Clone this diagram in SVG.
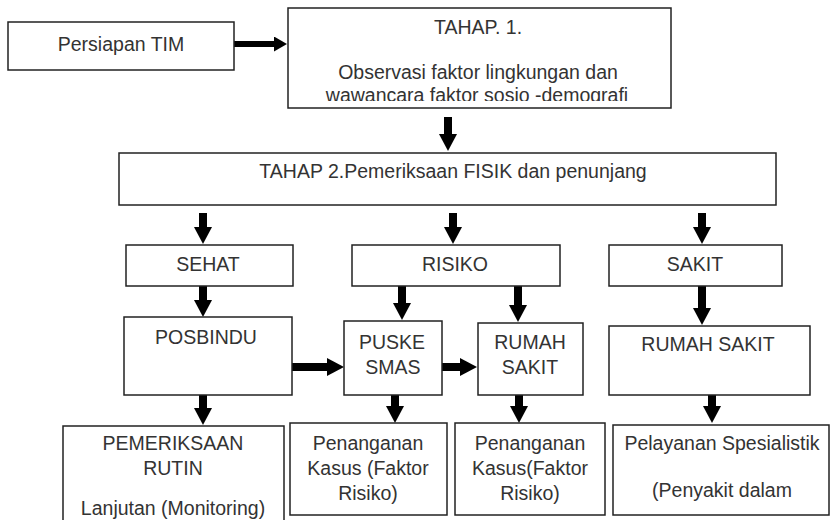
<svg xmlns="http://www.w3.org/2000/svg" width="831" height="526" viewBox="0 0 831 526">
<style>
.box{fill:#fff;stroke:#222;stroke-width:1.5}
.t{font-family:"Liberation Sans",Arial,sans-serif;font-size:19.5px;fill:#333;text-anchor:middle}
.ar{stroke:#000;stroke-width:8;fill:none}
.ars{stroke:#000;stroke-width:6;fill:none}
</style>
<defs>
<marker id="ah" markerUnits="userSpaceOnUse" markerWidth="17" markerHeight="18" refX="3" refY="9" orient="auto"><path d="M0,0 L17,9 L0,18 Z" fill="#000"/></marker>
<marker id="ahs" markerUnits="userSpaceOnUse" markerWidth="13" markerHeight="15" refX="3" refY="7.5" orient="auto"><path d="M0,0 L13,7.5 L0,15 Z" fill="#000"/></marker>
<clipPath id="c1"><rect x="288" y="8" width="384" height="93"/></clipPath>
<clipPath id="c2"><rect x="0" y="0" width="831" height="520"/></clipPath>
</defs>
<rect width="831" height="526" fill="#fff"/>
<g id="connectors">
<line class="ars" x1="234" y1="44" x2="277" y2="44" marker-end="url(#ahs)"/>
<line class="ar" x1="448" y1="117" x2="448" y2="137" marker-end="url(#ah)"/>
<line class="ar" x1="203" y1="213" x2="203" y2="230" marker-end="url(#ah)"/>
<line class="ar" x1="453" y1="213" x2="453" y2="230" marker-end="url(#ah)"/>
<line class="ar" x1="702" y1="213" x2="702" y2="230" marker-end="url(#ah)"/>
<line class="ar" x1="203" y1="286" x2="203" y2="303" marker-end="url(#ah)"/>
<line class="ar" x1="402" y1="286" x2="402" y2="306" marker-end="url(#ah)"/>
<line class="ar" x1="518" y1="286" x2="518" y2="308" marker-end="url(#ah)"/>
<line class="ar" x1="702" y1="286" x2="702" y2="311" marker-end="url(#ah)"/>
<line class="ar" x1="292" y1="367" x2="330" y2="367" marker-end="url(#ah)"/>
<line class="ar" x1="442" y1="367" x2="463" y2="367" marker-end="url(#ah)"/>
<line class="ar" x1="203" y1="395" x2="203" y2="411" marker-end="url(#ah)"/>
<line class="ar" x1="395" y1="395" x2="395" y2="409" marker-end="url(#ah)"/>
<line class="ar" x1="519" y1="395" x2="519" y2="409" marker-end="url(#ah)"/>
<line class="ar" x1="712" y1="395" x2="712" y2="409" marker-end="url(#ah)"/>
</g>
<g id="persiapan">
<rect class="box" x="8" y="22" width="226" height="48"/>
<text class="t" x="121" y="51">Persiapan TIM</text>
</g>
<g id="tahap1">
<rect class="box" x="288" y="8" width="383" height="100"/>
<text class="t" x="478" y="34">TAHAP. 1.</text>
<g clip-path="url(#c1)">
<text class="t" x="478" y="79">Observasi faktor lingkungan dan</text>
<text class="t" x="477" y="102">wawancara faktor sosio -demografi</text>
</g>
</g>
<g id="tahap2">
<rect class="box" x="119" y="153" width="657" height="52"/>
<text class="t" x="453" y="178">TAHAP 2.Pemeriksaan FISIK dan penunjang</text>
</g>
<g id="sehat">
<rect class="box" x="126" y="245" width="167" height="41"/>
<text class="t" x="208" y="271">SEHAT</text>
</g>
<g id="risiko">
<rect class="box" x="352" y="245" width="208" height="41"/>
<text class="t" x="455" y="271">RISIKO</text>
</g>
<g id="sakit">
<rect class="box" x="609" y="245" width="173" height="41"/>
<text class="t" x="695" y="271">SAKIT</text>
</g>
<g id="posbindu">
<rect class="box" x="124" y="317" width="168" height="78"/>
<text class="t" x="206" y="344">POSBINDU</text>
</g>
<g id="puskesmas">
<rect class="box" x="344" y="321" width="98" height="74"/>
<text class="t" x="392" y="349">PUSKE</text>
<text class="t" x="393" y="374">SMAS</text>
</g>
<g id="rumahsakit1">
<rect class="box" x="478" y="323" width="105" height="72"/>
<text class="t" x="530" y="349">RUMAH</text>
<text class="t" x="530" y="374">SAKIT</text>
</g>
<g id="rumahsakit2">
<rect class="box" x="609" y="326" width="201" height="69"/>
<text class="t" x="708" y="351">RUMAH SAKIT</text>
</g>
<g id="pemeriksaan" clip-path="url(#c2)">
<rect class="box" x="63" y="426" width="221" height="120"/>
<text class="t" x="173" y="450">PEMERIKSAAN</text>
<text class="t" x="173" y="475">RUTIN</text>
<text class="t" x="173" y="515">Lanjutan (Monitoring)</text>
</g>
<g id="penanganan1">
<rect class="box" x="290" y="423" width="157" height="92"/>
<text class="t" x="368" y="450">Penanganan</text>
<text class="t" x="368" y="475">Kasus (Faktor</text>
<text class="t" x="368" y="500">Risiko)</text>
</g>
<g id="penanganan2">
<rect class="box" x="455" y="423" width="150" height="92"/>
<text class="t" x="530" y="450">Penanganan</text>
<text class="t" x="530" y="475">Kasus(Faktor</text>
<text class="t" x="530" y="500">Risiko)</text>
</g>
<g id="pelayanan">
<rect class="box" x="613" y="425" width="216" height="90"/>
<text class="t" x="722" y="450">Pelayanan Spesialistik</text>
<text class="t" x="722" y="497">(Penyakit dalam</text>
</g>
</svg>
